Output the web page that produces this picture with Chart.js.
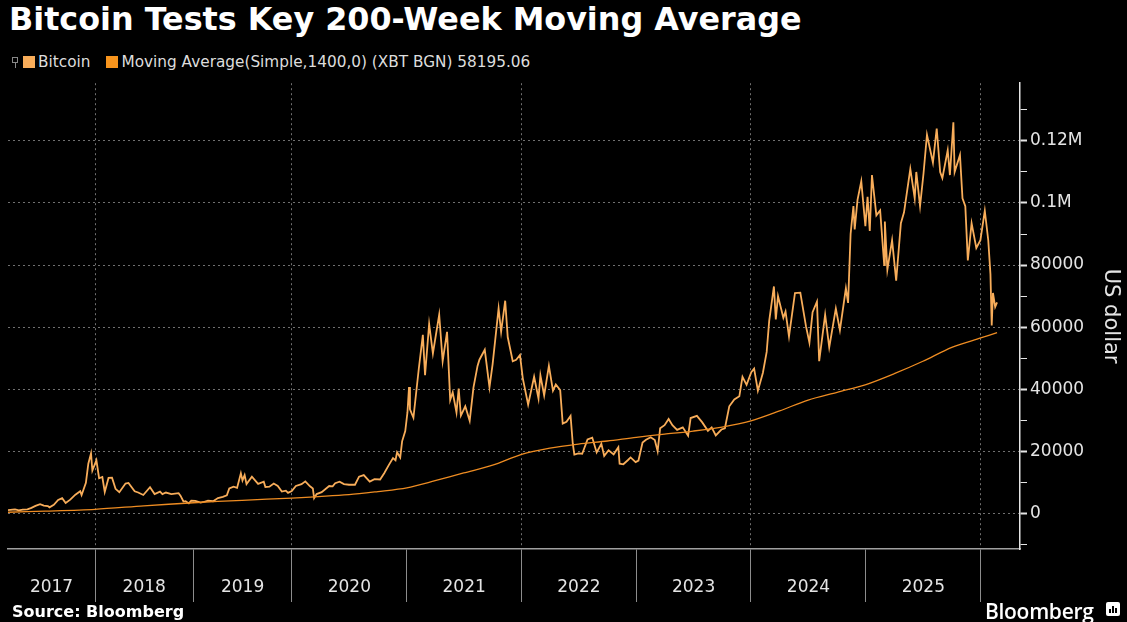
<!DOCTYPE html>
<html>
<head>
<meta charset="utf-8">
<script src="https://cdn.jsdelivr.net/npm/chart.js@4.4.1/dist/chart.umd.min.js"></script>
<style>
    html, body { margin: 0; padding: 0; background: #000; }
    body { width: 1127px; height: 622px; position: relative; overflow: hidden; font-family: "DejaVu Sans", sans-serif; color: #fff; }
    #title { position: absolute; left: 9px; top: 0px; font-weight: bold; font-size: 31.8px; white-space: nowrap; }
    #legend { position: absolute; left: 12px; top: 53px; font-size: 15.3px; color: #ddd; white-space: nowrap; display: flex; align-items: center; }
    .mark { display: inline-block; width: 4px; height: 4px; border: 1px solid #888; margin-right: 5px; position: relative; top: -2px; }
    .mark:after { content: ''; position: absolute; left: 2px; top: 5px; width: 1px; height: 5px; background: #888; }
    .sw { display: inline-block; width: 12px; height: 12px; margin-right: 3px; }
    #chart-wrap { position: absolute; left: 0; top: 70px; }
    #source { position: absolute; left: 12px; top: 602px; font-weight: bold; font-size: 16px; }
    #brand { position: absolute; left: 985px; top: 597px; font-family: "Open Sans", sans-serif; font-weight: 600; font-size: 21px; letter-spacing: -0.3px; }
    #brand-icon { position: absolute; left: 1106px; top: 602px; width: 14px; height: 14px; background: #fff; border-radius: 2px; }
    #brand-icon i { position: absolute; bottom: 3px; width: 2px; background: #000; }
</style>
</head>
<body>
<div id="title">Bitcoin Tests Key 200-Week Moving Average</div>
<div id="legend">
    <span class="mark"></span><span class="sw" style="background:#f8ad5a"></span><span>Bitcoin</span>
    <span class="sw" style="background:#f7941d;margin-left:16px"></span><span>Moving Average(Simple,1400,0) (XBT BGN) 58195.06</span>
</div>
<div id="chart-wrap"><canvas id="chart" width="1127" height="552"></canvas></div>
<div id="source">Source: Bloomberg</div>
<div id="brand">Bloomberg</div>
<div id="brand-icon"><i style="left:3px;height:4px"></i><i style="left:6px;height:7px"></i><i style="left:9px;height:5px"></i></div>
<script>
// Bitcoin price, USD
const btcDates = [
    '2017-02-12', '2017-03-01', '2017-03-10', '2017-03-24', '2017-04-08', '2017-04-25', '2017-05-10', '2017-05-25',
    '2017-06-11', '2017-06-25', '2017-07-10', '2017-07-16', '2017-08-01', '2017-08-17', '2017-09-01', '2017-09-14',
    '2017-10-01', '2017-10-20', '2017-11-07', '2017-11-12', '2017-11-28', '2017-12-07', '2017-12-17', '2017-12-22',
    '2018-01-06', '2018-01-16', '2018-01-28', '2018-02-06', '2018-02-20', '2018-03-05', '2018-03-18', '2018-04-01',
    '2018-04-24', '2018-05-05', '2018-05-28', '2018-06-10', '2018-06-29', '2018-07-24', '2018-08-10', '2018-08-30',
    '2018-09-08', '2018-09-21', '2018-10-11', '2018-11-07', '2018-11-14', '2018-11-25', '2018-12-03', '2018-12-15',
    '2018-12-24',
    '2019-01-08', '2019-01-28', '2019-02-08', '2019-02-24', '2019-03-15', '2019-04-02', '2019-04-20', '2019-05-05',
    '2019-05-14', '2019-05-30', '2019-06-12', '2019-06-26', '2019-07-02', '2019-07-10', '2019-07-17', '2019-08-06',
    '2019-08-29', '2019-09-19', '2019-09-25', '2019-10-10', '2019-10-26', '2019-11-10', '2019-11-25', '2019-12-10',
    '2019-12-18',
    '2020-01-01', '2020-01-14', '2020-02-01', '2020-02-13', '2020-02-28', '2020-03-08', '2020-03-12', '2020-03-20',
    '2020-04-05', '2020-04-29', '2020-05-10', '2020-05-18', '2020-06-01', '2020-06-15', '2020-07-01', '2020-07-20',
    '2020-08-02', '2020-08-17', '2020-09-05', '2020-09-20', '2020-10-08', '2020-10-21', '2020-11-05', '2020-11-18',
    '2020-11-26', '2020-12-01', '2020-12-11', '2020-12-17', '2020-12-27',
    '2021-01-03', '2021-01-08', '2021-01-11', '2021-01-22', '2021-02-08', '2021-02-21', '2021-02-28', '2021-03-13',
    '2021-03-25', '2021-04-14', '2021-04-25', '2021-05-09', '2021-05-19', '2021-05-27', '2021-06-08', '2021-06-15',
    '2021-06-22', '2021-07-06', '2021-07-20', '2021-08-01', '2021-08-14', '2021-08-20', '2021-09-06', '2021-09-21',
    '2021-10-01', '2021-10-20', '2021-10-28', '2021-11-10', '2021-11-18', '2021-12-04', '2021-12-15', '2021-12-27',
    '2022-01-05', '2022-01-22', '2022-02-10', '2022-02-24', '2022-03-02', '2022-03-14', '2022-03-29', '2022-04-11',
    '2022-04-20', '2022-05-04', '2022-05-12', '2022-05-24', '2022-06-06', '2022-06-13', '2022-06-18', '2022-07-01',
    '2022-07-13', '2022-07-30', '2022-08-14', '2022-08-28', '2022-09-12', '2022-09-21', '2022-10-05', '2022-10-21',
    '2022-11-05', '2022-11-09', '2022-11-21', '2022-12-05', '2022-12-14', '2022-12-30',
    '2023-01-08', '2023-01-21', '2023-02-01', '2023-02-16', '2023-03-01', '2023-03-10', '2023-03-18', '2023-04-01',
    '2023-04-14', '2023-04-26', '2023-05-11', '2023-05-29', '2023-06-15', '2023-06-23', '2023-07-13', '2023-07-30',
    '2023-08-17', '2023-08-29', '2023-09-11', '2023-09-29', '2023-10-10', '2023-10-24', '2023-11-09', '2023-11-25',
    '2023-12-05', '2023-12-18',
    '2024-01-02', '2024-01-11', '2024-01-23', '2024-02-08', '2024-02-20', '2024-02-28', '2024-03-14', '2024-03-20',
    '2024-03-27', '2024-04-13', '2024-04-20', '2024-05-01', '2024-05-20', '2024-06-06', '2024-06-24', '2024-07-05',
    '2024-07-15', '2024-07-29', '2024-08-05', '2024-08-24', '2024-09-06', '2024-09-27', '2024-10-10', '2024-10-29',
    '2024-11-05', '2024-11-13', '2024-11-22', '2024-11-26', '2024-12-05', '2024-12-17', '2024-12-30',
    '2025-01-06', '2025-01-13', '2025-01-20', '2025-02-03', '2025-02-15', '2025-02-28', '2025-03-02', '2025-03-10',
    '2025-03-25', '2025-04-07', '2025-04-22', '2025-05-02', '2025-05-22', '2025-06-05', '2025-06-10', '2025-06-22',
    '2025-07-03', '2025-07-14', '2025-08-02', '2025-08-14', '2025-08-25', '2025-09-01', '2025-09-18', '2025-09-25',
    '2025-10-06', '2025-10-10', '2025-10-27', '2025-11-04', '2025-11-13', '2025-11-21', '2025-12-03', '2025-12-18',
    '2025-12-31',
    '2026-01-14', '2026-01-25', '2026-02-01', '2026-02-05', '2026-02-09', '2026-02-16', '2026-02-22'
];
const btcValues = [
    1000, 1190, 1250, 940, 1180, 1260, 1760, 2400,
    2950, 2500, 2350, 1930, 2720, 4300, 4900, 3300,
    4400, 6000, 7100, 5900, 9800, 16000, 19300, 13800,
    17100, 11300, 11700, 6900, 11400, 11500, 7900, 6800,
    9600, 9800, 7100, 6700, 5900, 8400, 6200, 7000,
    6200, 6700, 6200, 6500, 5700, 3800, 3900, 3200,
    4100,
    4000, 3450, 3650, 4100, 3900, 4900, 5300, 5800,
    8000, 8600, 8200, 12900, 10600, 12300, 9400, 11800,
    9500, 10200, 8500, 8600, 9600, 8800, 7000, 7300,
    6600,
    7200, 8800, 9400, 10300, 8700, 8000, 4900, 6200,
    6800, 8800, 8700, 9700, 10200, 9400, 9200, 9200,
    11800, 12300, 10200, 11000, 10900, 12900, 15600, 17800,
    17100, 19700, 18000, 23200, 26500,
    32500, 40700, 33500, 30800, 46500, 57500, 44500, 61000,
    51500, 64000, 49000, 58500, 36500, 39000, 32500, 40200,
    31500, 34500, 29800, 40500, 47500, 49500, 52700, 40600,
    48100, 66000, 58500, 68500, 56800, 49000, 49500, 51000,
    43500, 35000, 44000, 37000, 44500, 38000, 47500, 39500,
    41500, 39700, 28900, 29500, 31400, 22500, 18900, 19300,
    19200, 23800, 24400, 19600, 22400, 18500, 20300, 19000,
    21300, 16000, 15800, 17100, 18000, 16500,
    17000, 22800, 23700, 24500, 23600, 20000, 27400, 28400,
    30400, 28400, 26900, 27700, 25000, 30700, 31400, 29300,
    26600, 27700, 25100, 27000, 27400, 34500, 36700, 37700,
    44000, 41400,
    45500, 46600, 39500, 45300, 52000, 62000, 73100, 62500,
    70000, 63000, 65000, 57000, 71000, 71100, 60300, 55000,
    64800, 68200, 49000, 64000, 53500, 66000, 59000, 72500,
    67800, 90000, 99000, 91500, 101000, 107000, 92500,
    102000, 91000, 109000, 96000, 97600, 80000, 94000, 78500,
    88000, 75000, 93500, 97000, 111000, 101500, 110000, 99000,
    109500, 122000, 113000, 124000, 110000, 108000, 117000, 109000,
    126000, 110000, 115500, 101500, 99000, 81500, 93500, 85500,
    88000,
    97500, 88000, 77000, 60500, 71000, 66500, 68000
];

// 200-week simple moving average
const maDates = [
    '2017-02-12', '2017-07-01', '2018-01-01', '2018-07-01', '2019-01-01', '2019-07-01', '2020-01-01', '2020-07-01',
    '2020-10-01', '2021-01-01', '2021-04-01', '2021-07-01', '2021-10-01', '2022-01-01', '2022-04-01', '2022-07-01',
    '2022-10-01', '2023-01-01', '2023-04-01', '2023-07-01', '2023-10-01', '2024-01-01', '2024-04-01', '2024-07-01',
    '2024-10-01', '2025-01-01', '2025-04-01', '2025-07-01', '2025-10-01', '2026-01-01', '2026-02-22'
];
const maValues = [
    350, 700, 1300, 2400, 3400, 4200, 4900, 6000,
    7000, 8200, 10500, 13000, 15500, 19000, 21000, 22300,
    23300, 24500, 25500, 26500, 27800, 29800, 33000, 36500,
    39000, 41500, 45000, 49000, 53500, 56500, 58195
];

const yearLabels = ['2017', '2018', '2019', '2020', '2021', '2022', '2023', '2024', '2025'];
const yTickValues = [-10000, 0, 10000, 20000, 30000, 40000, 50000, 60000, 70000,
    80000, 90000, 100000, 110000, 120000, 130000];

const btcColor = '#f8ad5a';
const maColor = '#ee8c22';
const gridColor = 'rgba(150, 150, 150, 0.75)';
const textColor = '#e4e4e4';
const clear = 'rgba(0,0,0,0)';

// the early years only have six trading days a week in this series
const shortYears = [2017, 2018, 2019];

function daysIn(y) { return y % 4 === 0 ? 366 : 365; }
function yearLength(y) { return shortYears.includes(y) ? 313 : daysIn(y); }

function toSlot(s) {
    const y = +s.slice(0, 4);
    const doy = (Date.UTC(y, +s.slice(5, 7) - 1, +s.slice(8, 10)) - Date.UTC(y, 0, 1)) / 86400000;
    let start = 0;
    for (let k = 2017; k < y; k++) start += yearLength(k);
    return start + doy * yearLength(y) / daysIn(y);
}

const xMin = toSlot('2017-02-12');
const xMax = toSlot('2026-05-06');

const boundaries = [];
for (let y = 2018; y <= 2026; y++) boundaries.push(toSlot(y + '-01-01'));
const gridBounds = new Set([boundaries[0], boundaries[2], boundaries[4], boundaries[6], boundaries[8]]);
const boundSet = new Set(boundaries);

const labelAt = new Map();
yearLabels.forEach((lab, i) => {
    const from = i === 0 ? xMin : boundaries[i - 1];
    labelAt.set((from + boundaries[i]) / 2, lab);
});
const xTickValues = [...boundaries, ...labelAt.keys()].sort((a, b) => a - b);

function fmtY(v) {
    if (v >= 100000) return (v / 1000000) + 'M';
    return String(v);
}

Chart.defaults.font.family = '"DejaVu Sans", sans-serif';

const ctx = document.getElementById('chart').getContext('2d');
new Chart(ctx, {
    type: 'line',
    data: {
        datasets: [{
            label: 'Moving Average(Simple,1400,0) (XBT BGN)',
            data: maDates.map((d, i) => ({ x: toSlot(d), y: maValues[i] })),
            borderColor: maColor,
            borderWidth: 1.3,
            pointRadius: 0,
            tension: 0.3,
            order: 0
        }, {
            label: 'Bitcoin',
            data: btcDates.map((d, i) => ({ x: toSlot(d), y: btcValues[i] })),
            borderColor: btcColor,
            borderWidth: 1.8,
            pointRadius: 0,
            tension: 0,
            order: 1
        }]
    },
    options: {
        responsive: false,
        animation: false,
        devicePixelRatio: 1,
        layout: { padding: { top: 8, bottom: 17, left: 8, right: 0 } },
        plugins: { legend: { display: false }, tooltip: { enabled: false } },
        scales: {
            x: {
                type: 'linear',
                min: xMin,
                max: xMax,
                afterBuildTicks: s => { s.ticks = xTickValues.map(v => ({ value: v })); },
                afterFit: s => { s.height = 56; },
                ticks: {
                    autoSkip: false,
                    maxRotation: 0,
                    color: textColor,
                    font: { size: 17 },
                    padding: -25,
                    callback: v => labelAt.get(v) || ''
                },
                grid: {
                    color: c => (c.tick && gridBounds.has(c.tick.value)) ? gridColor : clear,
                    tickColor: c => (c.tick && boundSet.has(c.tick.value)) ? '#8c8c8c' : clear,
                    tickLength: 53,
                    lineWidth: 1,
                    tickWidth: 1
                },
                border: { color: '#a0a0a0', width: 1.5, dash: [2, 3] }
            },
            y: {
                position: 'right',
                min: -11500,
                max: 138600,
                afterBuildTicks: s => { s.ticks = yTickValues.map(v => ({ value: v })); },
                afterFit: s => { s.width = 107; },
                ticks: {
                    autoSkip: false,
                    color: textColor,
                    font: { size: 17 },
                    padding: 3,
                    callback: v => (v % 20000 === 0 ? fmtY(v) : '')
                },
                grid: {
                    color: c => (c.tick && c.tick.value % 20000 === 0) ? gridColor : clear,
                    tickColor: textColor,
                    tickLength: 7,
                    tickWidth: c => (c.tick && c.tick.value % 20000 === 0) ? 2 : 1
                },
                border: { color: textColor, width: 1.5, dash: [2, 3] },
                title: {
                    display: true,
                    text: 'US dollar',
                    color: textColor,
                    font: { size: 21 },
                    padding: { top: 4, bottom: 0 }
                }
            }
        }
    }
});
</script>
</body>
</html>
